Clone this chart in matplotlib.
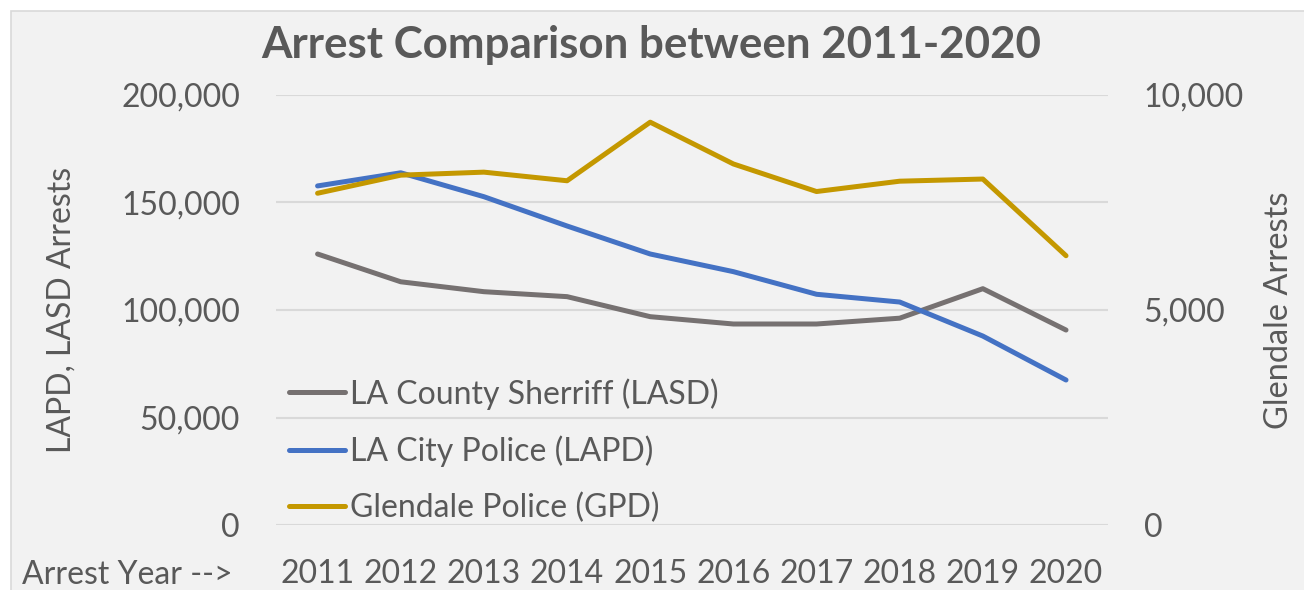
import matplotlib
matplotlib.use("Agg")
import matplotlib.pyplot as plt
from matplotlib.patches import Rectangle
from matplotlib.ticker import FuncFormatter, FixedLocator

years = ["2011", "2012", "2013", "2014", "2015", "2016", "2017", "2018", "2019", "2020"]
lasd = [126000, 113100, 108500, 106200, 96900, 93500, 93500, 96200, 109900, 90700]
lapd = [157600, 163700, 152600, 139000, 126000, 117800, 107300, 103700, 87900, 67500]
gpd = [7710, 8130, 8200, 8000, 9360, 8390, 7750, 7990, 8040, 6260]
left_ticks = [0, 50000, 100000, 150000, 200000]
right_ticks = [0, 5000, 10000]

FONT = "Lato"
TXT = "#595959"
W, H = 1304, 590
AX_L, AX_R, AX_T, AX_B = 276, 1107.6, 94.6, 525.4

fig = plt.figure(figsize=(W / 100, H / 100), dpi=100)
fig.patch.set_facecolor("white")
fig.patches.append(Rectangle((11 / W, -0.05), 1.1, 1 - 11 / H + 0.05, transform=fig.transFigure,
                             facecolor="#F2F2F2", edgecolor="#D9D9D9", linewidth=1.2, zorder=-10))

ax = fig.add_axes([AX_L / W, 1 - AX_B / H, (AX_R - AX_L) / W, (AX_B - AX_T) / H])
ax.set_facecolor("none")
ax2 = ax.twinx()
ax2.set_facecolor("none")

x = list(range(len(years)))
kw = dict(lw=3.6, solid_capstyle="round", solid_joinstyle="round", zorder=3)
l1, = ax.plot(x, lasd, color="#767171", label="LA County Sherriff (LASD)", **kw)
l2, = ax.plot(x, lapd, color="#4472C4", label="LA City Police (LAPD)", **kw)
l3, = ax2.plot(x, gpd, color="#C49800", label="Glendale Police (GPD)", **kw)

ax.set_xlim(-0.5, len(years) - 0.5)
ax.set_ylim(0, 200000)
ax2.set_ylim(0, 10000)
ax.yaxis.set_major_locator(FixedLocator(left_ticks))
ax2.yaxis.set_major_locator(FixedLocator(right_ticks))
fmt = FuncFormatter(lambda v, p: f"{int(v):,}")
ax.yaxis.set_major_formatter(fmt)
ax2.yaxis.set_major_formatter(fmt)
ax.set_xticks(x)
ax.set_xticklabels(years)

ax.grid(axis="y", color="#D9D9D9", lw=1.5, zorder=0)
ax.set_axisbelow(True)
for a in (ax, ax2):
    for s in a.spines.values():
        s.set_visible(False)
    a.tick_params(length=0, labelsize=23, labelcolor=TXT)
    for lab in a.get_yticklabels() + a.get_xticklabels():
        lab.set_fontfamily(FONT)
ax.tick_params(axis="y", pad=26)
ax2.tick_params(axis="y", pad=26)
ax.tick_params(axis="x", pad=24)

ax.set_ylabel("LAPD, LASD Arrests", fontsize=23, color=TXT, family=FONT)
ax2.set_ylabel("Glendale Arrests", fontsize=23.5, color=TXT, family=FONT, rotation=90)
ax.yaxis.label.set_verticalalignment("center")
ax2.yaxis.label.set_verticalalignment("center")
ax.yaxis.set_label_coords((62 - AX_L) / (AX_R - AX_L), 0.5)
ax2.yaxis.set_label_coords((1279 - AX_L) / (AX_R - AX_L), 0.5)

fig.text(0.5 * (262 + 1040) / W, 1 - 45 / H, "Arrest Comparison between 2011-2020", ha="center", va="center",
         fontsize=31.6, fontweight="bold", color=TXT, family=FONT)
fig.text(22 / W, 1 - 575 / H, "Arrest Year -->", ha="left", va="center", fontsize=23, color=TXT, family=FONT)

leg = ax.legend(handles=[l1, l2, l3], loc="upper left", bbox_to_anchor=(289 / W, 1 - 378 / H),
                bbox_transform=fig.transFigure, frameon=False, handlelength=1.75,
                handletextpad=0.15, labelspacing=0.8, borderpad=0, borderaxespad=0,
                prop={"family": FONT, "size": 23})
for t in leg.get_texts():
    t.set_color(TXT)

fig.savefig("out.png", dpi=100, facecolor=fig.get_facecolor())
